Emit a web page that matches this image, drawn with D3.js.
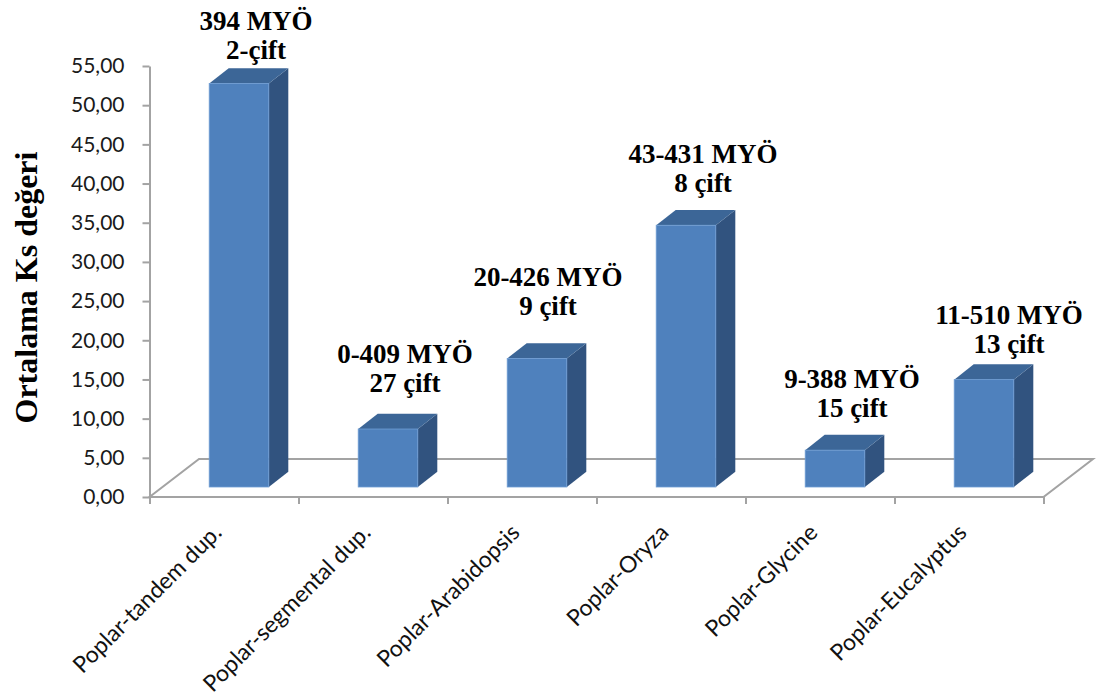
<!DOCTYPE html>
<html>
<head>
<meta charset="utf-8">
<script src="https://cdn.jsdelivr.net/npm/d3@7/dist/d3.min.js"></script>
<style>
  html, body { margin: 0; padding: 0; background: #fff; }
  svg { display: block; }
</style>
</head>
<body>
<svg id="chart" width="1096" height="699"></svg>
<script>
// Mean Ks per comparison group, with the age range (MYÖ) and pair count of each group
const categories = ["Poplar-tandem dup.", "Poplar-segmental dup.", "Poplar-Arabidopsis", "Poplar-Oryza", "Poplar-Glycine", "Poplar-Eucalyptus"];
const ksMeans = [51.5, 7.4, 16.4, 33.4, 4.7, 13.7];
const myaRanges = ["394 MYÖ", "0-409 MYÖ", "20-426 MYÖ", "43-431 MYÖ", "9-388 MYÖ", "11-510 MYÖ"];
const pairCounts = ["2-çift", "27 çift", "9 çift", "8 çift", "15 çift", "13 çift"];
const yTicks = [0, 5, 10, 15, 20, 25, 30, 35, 40, 45, 50, 55];
const yTitle = "Ortalama Ks değeri";

// Label placement tweaks (px): height above the top face, horizontal nudge
const labelLift = [9, 22, 28, 18, 18, 11];
const labelNudge = [0, 0, -6, 0, 0, 8];

const svg = d3.select("#chart");
const W = 1096, H = 699;
svg.append("rect").attr("width", W).attr("height", H).attr("fill", "#fff");

// Plot geometry (front edge of the floor, oblique depth)
const left = 149.5, right = 1043.5;
const depth = { dx: 49.5, dy: -38 };          // floor depth vector
const barFront = { dx: 15, dy: -10 };         // bar front plane offset
const barDepth = { dx: 19.5, dy: -15.3 };     // bar thickness in depth

const x = d3.scaleBand().domain(categories).range([left, right]).paddingInner(0).paddingOuter(0);
const y = d3.scaleLinear().domain([0, 55]).range([497, 66]);
const idx = d3.scaleLinear().domain([0, categories.length]).range([left, right]);

const gridColor = "#a3a3a3";

// Floor outline
const y0 = y(0);
const floor = [
  [left, y0], [right, y0],
  [right + depth.dx, y0 + depth.dy], [left + depth.dx, y0 + depth.dy]
];
svg.append("path")
  .attr("d", d3.line()(floor) + "Z")
  .attr("fill", "none")
  .attr("stroke", gridColor)
  .attr("stroke-width", 2);

// Y axis
const fmt = d3.formatLocale({ decimal: ",", thousands: ".", grouping: [3], currency: ["", ""] }).format(".2f");
const yAxis = svg.append("g")
  .attr("transform", `translate(${left},0)`)
  .call(d3.axisLeft(y).tickValues(yTicks).tickFormat(fmt).tickSize(7).tickSizeOuter(0).tickPadding(18));
yAxis.select(".domain").attr("stroke", gridColor).attr("stroke-width", 2);
yAxis.selectAll(".tick line").attr("stroke", gridColor).attr("stroke-width", 2);
yAxis.selectAll(".tick text")
  .attr("fill", "#1a1a1a")
  .style("font-family", "Lato, 'Liberation Sans', sans-serif")
  .style("font-size", "21px");

// X axis tick marks at category boundaries
const xAxis = svg.append("g")
  .attr("transform", `translate(0,${y0})`)
  .call(d3.axisBottom(idx).tickValues(d3.range(categories.length + 1)).tickFormat("").tickSize(7).tickSizeOuter(0));
xAxis.select(".domain").remove();
xAxis.selectAll(".tick line").attr("stroke", gridColor).attr("stroke-width", 2);

// Category labels, rotated
svg.append("g").selectAll("text")
  .data(categories)
  .join("text")
  .attr("transform", d => `translate(${x(d) + x.bandwidth() / 2 - 1},${y0 + 37}) rotate(-45)`)
  .attr("text-anchor", "end")
  .attr("fill", "#111")
  .style("font-family", "Lato, 'Liberation Sans', sans-serif")
  .style("font-size", "23px")
  .text(d => d);

// 3D columns
const barW = x.bandwidth() * 0.4;
const bars = categories.map((c, i) => {
  const l = x(c) + (x.bandwidth() - barW) / 2 + barFront.dx;
  const r = l + barW;
  const b = y(0) + barFront.dy;
  const t = y(ksMeans[i]) + barFront.dy;
  return { c, i, l, r, b, t };
});

const gBars = svg.append("g");
bars.forEach(d => {
  const g = gBars.append("g");
  // side face
  g.append("path")
    .attr("d", d3.line()([
      [d.r, d.t], [d.r + barDepth.dx, d.t + barDepth.dy],
      [d.r + barDepth.dx, d.b + barDepth.dy], [d.r, d.b]
    ]) + "Z")
    .attr("fill", "#31537f");
  // top face
  g.append("path")
    .attr("d", d3.line()([
      [d.l, d.t], [d.r, d.t],
      [d.r + barDepth.dx, d.t + barDepth.dy], [d.l + barDepth.dx, d.t + barDepth.dy]
    ]) + "Z")
    .attr("fill", "#3c6697");
  // front face
  g.append("rect")
    .attr("x", d.l).attr("y", d.t)
    .attr("width", d.r - d.l).attr("height", d.b - d.t)
    .attr("fill", "#4f81bd")
    .attr("stroke", "#6f9dd4")
    .attr("stroke-width", 0.8);
});

// Value labels above the columns
const gLab = svg.append("g")
  .style("font-family", "'Liberation Serif', 'Times New Roman', serif")
  .style("font-weight", "bold")
  .style("font-size", "27px")
  .attr("fill", "#000")
  .attr("text-anchor", "middle");
bars.forEach(d => {
  const cx = (d.l + d.r) / 2 + 17 + labelNudge[d.i];
  const base2 = d.t + barDepth.dy - labelLift[d.i];
  gLab.append("text").attr("x", cx).attr("y", base2 - 29).text(myaRanges[d.i]);
  gLab.append("text").attr("x", cx).attr("y", base2).text(pairCounts[d.i]);
});

// Y axis title
svg.append("text")
  .attr("transform", `translate(36.5,287.5) rotate(-90)`)
  .attr("text-anchor", "middle")
  .style("font-family", "'Liberation Serif', 'Times New Roman', serif")
  .style("font-weight", "bold")
  .style("font-size", "32px")
  .attr("fill", "#000")
  .text(yTitle);
</script>
</body>
</html>
